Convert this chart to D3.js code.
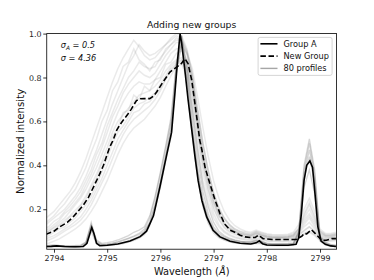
<!DOCTYPE html>
<html>
<head>
<meta charset="utf-8">
<script src="https://d3js.org/d3.v7.min.js"></script>
<style>
  body { margin: 0; background: #fff; }
  svg { display: block; font-family: 'DejaVu Sans', sans-serif; }
</style>
</head>
<body>
<svg></svg>
<script>

// tick labels
var xTicks = [2794, 2795, 2796, 2797, 2798, 2799];
var yTicks = [0.2, 0.4, 0.6, 0.8, 1.0];

// Group A (solid black)
var groupAWave = [2793.85, 2793.95, 2794.05, 2794.2, 2794.4, 2794.55, 2794.62, 2794.67, 2794.71, 2794.75,
  2794.8, 2794.86, 2795.0, 2795.2, 2795.43, 2795.62, 2795.74, 2795.87, 2795.99, 2796.12,
  2796.21, 2796.27, 2796.32, 2796.37, 2796.40, 2796.46, 2796.52, 2796.59, 2796.65, 2796.71,
  2796.78, 2796.87, 2796.99, 2797.12, 2797.31, 2797.5, 2797.7, 2797.8, 2797.86, 2797.92,
  2798.0, 2798.2, 2798.4, 2798.55, 2798.6, 2798.65, 2798.7, 2798.75, 2798.81, 2798.86,
  2798.91, 2798.96, 2799.02, 2799.1, 2799.2, 2799.3];
var groupAValue = [0.030, 0.031, 0.033, 0.030, 0.029, 0.030, 0.045, 0.085, 0.117, 0.090,
  0.045, 0.034, 0.036, 0.042, 0.055, 0.075, 0.100, 0.170, 0.300, 0.450,
  0.550, 0.720, 0.870, 1.000, 0.955, 0.833, 0.700, 0.560, 0.440, 0.330,
  0.240, 0.165, 0.104, 0.074, 0.054, 0.045, 0.042, 0.047, 0.056, 0.043,
  0.037, 0.036, 0.036, 0.040, 0.070, 0.180, 0.330, 0.400, 0.420, 0.390,
  0.260, 0.120, 0.055, 0.040, 0.033, 0.030];

// New Group (dashed)
var newGroupWave = [2793.85, 2794.0, 2794.11, 2794.25, 2794.36, 2794.45, 2794.55, 2794.65, 2794.74, 2794.84,
  2794.93, 2795.0, 2795.05, 2795.11, 2795.18, 2795.24, 2795.30, 2795.38, 2795.45, 2795.55,
  2795.62, 2795.70, 2795.80, 2795.87, 2795.93, 2796.05, 2796.18, 2796.31, 2796.40, 2796.46,
  2796.52, 2796.59, 2796.65, 2796.71, 2796.74, 2796.78, 2796.84, 2796.93, 2797.03, 2797.12,
  2797.21, 2797.31, 2797.40, 2797.50, 2797.59, 2797.70, 2797.78, 2797.84, 2797.88, 2797.93,
  2798.1, 2798.3, 2798.55, 2798.66, 2798.70, 2798.75, 2798.84, 2798.94, 2799.03, 2799.12,
  2799.22, 2799.3];
var newGroupValue = [0.086, 0.100, 0.120, 0.140, 0.165, 0.190, 0.218, 0.255, 0.300, 0.350,
  0.400, 0.450, 0.484, 0.514, 0.560, 0.585, 0.605, 0.630, 0.655, 0.695,
  0.703, 0.704, 0.704, 0.715, 0.734, 0.780, 0.825, 0.848, 0.865, 0.886,
  0.863, 0.787, 0.680, 0.570, 0.514, 0.470, 0.390, 0.317, 0.240, 0.180,
  0.132, 0.105, 0.095, 0.082, 0.074, 0.071, 0.071, 0.082, 0.075, 0.066,
  0.062, 0.062, 0.062, 0.077, 0.090, 0.088, 0.107, 0.082, 0.059, 0.059,
  0.066, 0.066];

// wavelength grid shared by the 80 profiles (only a sample of them is kept)
var profileWave = [2793.8, 2793.9, 2794.0, 2794.1, 2794.2, 2794.3, 2794.4, 2794.5, 2794.6, 2794.7,
  2794.8, 2794.9, 2795.0, 2795.1, 2795.2, 2795.3, 2795.4, 2795.5, 2795.6, 2795.7,
  2795.8, 2795.9, 2796.0, 2796.1, 2796.2, 2796.3, 2796.4, 2796.5, 2796.6, 2796.7,
  2796.8, 2796.9, 2797.0, 2797.1, 2797.2, 2797.3, 2797.4, 2797.5, 2797.6, 2797.7,
  2797.8, 2797.9, 2798.0, 2798.1, 2798.2, 2798.3, 2798.4, 2798.5, 2798.6, 2798.7,
  2798.8, 2798.9, 2799.0, 2799.1, 2799.2, 2799.3];

// profiles close to Group A
var narrowProfiles = [
  [.032,.034,.036,.034,.033,.032,.033,.034,.050,.140,
   .055,.040,.042,.046,.052,.060,.068,.078,.090,.110,
   .160,.250,.360,.480,.600,.860,.990,.840,.620,.430,
   .280,.180,.120,.090,.075,.065,.058,.054,.052,.052,
   .060,.055,.045,.043,.043,.043,.044,.046,.100,.400,
   .520,.380,.080,.050,.040,.036],
  [.028,.030,.031,.030,.029,.028,.028,.029,.038,.100,
   .042,.033,.034,.037,.040,.044,.050,.058,.068,.085,
   .125,.200,.300,.420,.530,.820,.950,.760,.530,.340,
   .210,.135,.092,.070,.059,.051,.046,.043,.041,.040,
   .045,.043,.035,.034,.034,.034,.034,.036,.070,.300,
   .380,.270,.055,.038,.032,.029],
  [.031,.032,.034,.032,.031,.030,.031,.032,.045,.125,
   .050,.038,.040,.044,.050,.057,.066,.075,.085,.100,
   .140,.220,.330,.450,.580,.840,.970,.860,.660,.470,
   .310,.210,.140,.100,.080,.068,.060,.055,.050,.048,
   .055,.050,.042,.040,.040,.040,.041,.043,.090,.360,
   .470,.340,.070,.045,.036,.032],
  [.033,.035,.037,.035,.034,.034,.035,.037,.050,.130,
   .060,.045,.048,.053,.060,.070,.080,.095,.105,.120,
   .170,.260,.370,.490,.620,.870,.990,.800,.570,.380,
   .240,.160,.110,.082,.070,.062,.056,.052,.050,.050,
   .058,.052,.044,.042,.042,.042,.043,.045,.095,.380,
   .500,.360,.075,.048,.038,.034],
  [.029,.030,.032,.031,.030,.029,.029,.030,.042,.120,
   .046,.036,.037,.040,.044,.048,.056,.065,.076,.095,
   .140,.220,.320,.440,.560,.830,.960,.800,.570,.380,
   .240,.155,.105,.078,.065,.057,.051,.047,.045,.044,
   .050,.046,.038,.037,.037,.037,.037,.039,.085,.340,
   .440,.320,.065,.042,.034,.031]
];

// profiles close to the New Group
var broadProfiles = [
  [.090,.100,.115,.130,.150,.170,.195,.220,.260,.310,
   .360,.420,.480,.550,.600,.630,.660,.690,.720,.730,
   .740,.760,.790,.830,.860,.880,.890,.860,.740,.550,
   .400,.290,.210,.155,.120,.100,.090,.080,.075,.072,
   .080,.074,.068,.066,.066,.065,.066,.070,.085,.100,
   .120,.100,.070,.065,.068,.070],
  [.120,.140,.160,.180,.200,.230,.260,.300,.350,.410,
   .470,.540,.610,.680,.740,.800,.860,.900,.950,.920,
   .900,.910,.930,.950,.970,.990,.980,.920,.800,.620,
   .460,.340,.250,.180,.140,.115,.100,.090,.085,.080,
   .090,.082,.075,.072,.072,.070,.072,.078,.100,.140,
   .170,.130,.085,.075,.075,.080],
  [.050,.060,.070,.085,.100,.115,.130,.150,.180,.220,
   .270,.320,.370,.430,.490,.540,.580,.610,.630,.650,
   .670,.700,.740,.790,.830,.860,.870,.830,.700,.520,
   .370,.260,.180,.130,.100,.085,.075,.068,.064,.062,
   .070,.065,.058,.056,.056,.055,.056,.060,.075,.090,
   .100,.085,.060,.055,.058,.060],
  [.100,.110,.130,.150,.180,.200,.230,.260,.310,.360,
   .420,.480,.550,.620,.670,.730,.770,.800,.830,.810,
   .800,.820,.860,.900,.930,.960,.960,.910,.800,.640,
   .490,.370,.270,.200,.155,.125,.105,.095,.088,.083,
   .095,.085,.078,.075,.074,.074,.076,.082,.110,.170,
   .220,.160,.095,.080,.080,.085],
  [.070,.080,.095,.110,.120,.140,.160,.190,.220,.260,
   .310,.370,.430,.500,.550,.580,.620,.660,.680,.690,
   .710,.730,.770,.810,.850,.870,.880,.850,.760,.600,
   .450,.320,.230,.170,.130,.110,.095,.085,.078,.075,
   .085,.078,.070,.068,.068,.067,.068,.072,.090,.120,
   .140,.110,.075,.068,.070,.072],
  [.150,.170,.190,.220,.250,.280,.320,.370,.430,.500,
   .570,.640,.710,.780,.840,.890,.930,.970,.940,.900,
   .880,.890,.920,.950,.980,1.00,.990,.930,.820,.660,
   .500,.370,.270,.200,.160,.130,.110,.100,.095,.090,
   .100,.092,.085,.082,.080,.080,.082,.088,.110,.160,
   .200,.150,.100,.085,.085,.090],
  [.040,.045,.055,.065,.080,.095,.110,.130,.155,.190,
   .230,.280,.330,.390,.450,.500,.540,.570,.590,.610,
   .640,.670,.710,.760,.810,.850,.860,.800,.660,.480,
   .330,.230,.160,.120,.095,.080,.070,.064,.060,.058,
   .066,.060,.055,.053,.053,.052,.053,.056,.070,.085,
   .095,.080,.058,.052,.055,.056],
  [.090,.100,.120,.140,.160,.190,.220,.250,.290,.340,
   .390,.450,.510,.580,.640,.690,.730,.760,.780,.770,
   .770,.790,.830,.870,.910,.930,.940,.910,.840,.710,
   .570,.440,.330,.250,.190,.150,.125,.110,.100,.095,
   .105,.095,.088,.085,.084,.084,.086,.095,.130,.200,
   .250,.190,.110,.090,.090,.095],
  [.080,.095,.105,.125,.140,.165,.180,.215,.245,.300,
   .340,.410,.450,.530,.570,.640,.650,.720,.700,.760,
   .740,.790,.800,.860,.870,.910,.920,.880,.780,.600,
   .440,.330,.240,.180,.135,.115,.098,.090,.082,.079,
   .088,.080,.073,.071,.070,.071,.072,.077,.095,.130,
   .160,.120,.080,.072,.074,.078],
  [.130,.150,.170,.200,.225,.260,.290,.340,.390,.460,
   .520,.600,.650,.740,.780,.850,.870,.930,.880,.860,
   .830,.870,.880,.930,.950,.980,.970,.900,.770,.590,
   .430,.320,.230,.170,.135,.110,.098,.088,.084,.080,
   .092,.083,.076,.073,.073,.072,.074,.080,.105,.150,
   .180,.140,.090,.078,.078,.083],
  [.060,.070,.080,.095,.110,.125,.145,.165,.200,.240,
   .290,.340,.400,.460,.520,.560,.600,.640,.650,.680,
   .690,.720,.750,.800,.840,.860,.880,.840,.730,.560,
   .410,.290,.200,.150,.115,.095,.085,.076,.070,.068,
   .077,.071,.064,.062,.061,.061,.062,.066,.082,.105,
   .120,.095,.068,.060,.063,.065],
  [.110,.120,.145,.160,.190,.215,.245,.280,.330,.380,
   .450,.500,.580,.640,.700,.750,.800,.830,.870,.850,
   .840,.850,.890,.920,.950,.970,.970,.920,.810,.650,
   .500,.380,.280,.210,.160,.130,.110,.098,.090,.086,
   .098,.088,.080,.077,.076,.076,.078,.085,.115,.180,
   .230,.170,.100,.082,.082,.088]
];

var legendLabels = ['Group A', 'New Group', '80 profiles'];

var width = 374;
var height = 280;
var margin = {left: 46.75, right: 37.4, top: 33.6, bottom: 30.8};

var svg = d3.select('svg')
  .attr('width', width)
  .attr('height', height);

var x = d3.scaleLinear()
  .domain([2793.864, 2799.312])
  .range([margin.left, width - margin.right]);

var y = d3.scaleLinear()
  .domain([0.018, 1.0])
  .range([height - margin.bottom, margin.top]);

svg.append('defs').append('clipPath')
  .attr('id', 'plot-clip')
  .append('rect')
    .attr('x', margin.left)
    .attr('y', margin.top)
    .attr('width', width - margin.left - margin.right)
    .attr('height', height - margin.top - margin.bottom);

var line = d3.line()
  .x(d => x(d[0]))
  .y(d => y(d[1]));

var plot = svg.append('g').attr('clip-path', 'url(#plot-clip)');

// gray profiles
plot.selectAll('.broad')
  .data(broadProfiles)
  .enter()
  .append('path')
    .attr('class', 'broad')
    .attr('d', d => line(d3.zip(profileWave, d)))
    .attr('fill', 'none')
    .attr('stroke', '#808080')
    .attr('stroke-opacity', 0.17)
    .attr('stroke-width', 1.5);

plot.selectAll('.narrow')
  .data(narrowProfiles)
  .enter()
  .append('path')
    .attr('class', 'narrow')
    .attr('d', d => line(d3.zip(profileWave, d)))
    .attr('fill', 'none')
    .attr('stroke', '#808080')
    .attr('stroke-opacity', 0.32)
    .attr('stroke-width', 1.3);

plot.append('path')
  .attr('d', line(d3.zip(newGroupWave, newGroupValue)))
  .attr('fill', 'none')
  .attr('stroke', '#000')
  .attr('stroke-width', 1.6)
  .attr('stroke-dasharray', '5.5,2.6');

plot.append('path')
  .attr('d', line(d3.zip(groupAWave, groupAValue)))
  .attr('fill', 'none')
  .attr('stroke', '#000')
  .attr('stroke-width', 1.6);

// axes
var xAxis = d3.axisBottom(x)
  .tickValues(xTicks)
  .tickSize(3.5)
  .tickPadding(2.3)
  .tickFormat(d3.format('d'));

var yAxis = d3.axisLeft(y)
  .tickValues(yTicks)
  .tickSize(3.5)
  .tickPadding(1.6)
  .tickFormat(d3.format('.1f'));

svg.append('g')
  .attr('transform', `translate(0, ${height - margin.bottom})`)
  .call(xAxis);

svg.append('g')
  .attr('transform', `translate(${margin.left}, 0)`)
  .call(yAxis);

svg.selectAll('.domain').remove();
svg.selectAll('.tick line').attr('stroke', '#000').attr('stroke-width', 0.8);
svg.selectAll('.tick text')
  .attr('fill', '#222')
  .style('font-family', 'DejaVu Sans')
  .style('font-size', '7.9px');

svg.append('rect')
  .attr('x', margin.left)
  .attr('y', margin.top)
  .attr('width', width - margin.left - margin.right)
  .attr('height', height - margin.top - margin.bottom)
  .attr('fill', 'none')
  .attr('stroke', '#000')
  .attr('stroke-width', 0.8);

// title
svg.append('text')
  .attr('x', (margin.left + width - margin.right) / 2)
  .attr('y', 28)
  .style('text-anchor', 'middle')
  .style('font-size', '9.3px')
  .attr('fill', '#111')
  .text('Adding new groups');

// x-axis label
var xLabel = svg.append('text')
  .attr('x', (margin.left + width - margin.right) / 2)
  .attr('y', 275)
  .style('text-anchor', 'middle')
  .style('font-size', '9.8px')
  .attr('fill', '#111');
xLabel.append('tspan').text('Wavelength (');
xLabel.append('tspan').style('font-style', 'italic').text('Å');
xLabel.append('tspan').text(')');

// y-axis label
svg.append('text')
  .attr('transform', 'rotate(-90)')
  .attr('x', -(margin.top + height - margin.bottom) / 2)
  .attr('y', 23.5)
  .style('text-anchor', 'middle')
  .style('font-size', '10.2px')
  .attr('fill', '#111')
  .text('Normalized intensity');

// sigma notes
var note1 = svg.append('text')
  .attr('x', 60.7)
  .attr('y', 48.3)
  .style('font-size', '8.2px')
  .style('font-style', 'italic')
  .attr('fill', '#111');
note1.append('tspan').text('σ');
note1.append('tspan').attr('dy', 1.8).style('font-size', '5.8px').text('A');
note1.append('tspan').attr('dy', -1.8).text(' = 0.5');

svg.append('text')
  .attr('x', 60.7)
  .attr('y', 60.7)
  .style('font-size', '8.2px')
  .style('font-style', 'italic')
  .attr('fill', '#111')
  .text('σ = 4.36');

// legend
var legend = svg.append('g')
  .attr('transform', `translate(${width - margin.right - 78.5}, ${margin.top + 3.8})`);

legend.append('rect')
  .attr('width', 74)
  .attr('height', 38)
  .attr('rx', 2)
  .attr('fill', '#fff')
  .attr('fill-opacity', 0.8)
  .attr('stroke', '#cccccc')
  .attr('stroke-width', 0.8);

var legendStyle = [
  {stroke: '#000', dash: null, width: 1.6},
  {stroke: '#000', dash: '5.5,2.6', width: 1.6},
  {stroke: '#a6a6a6', dash: null, width: 1.4}
];

var rows = legend.selectAll('.row')
  .data(legendLabels)
  .enter()
  .append('g')
    .attr('class', 'row')
    .attr('transform', (d, i) => `translate(0, ${6.4 + i * 12.3})`);

rows.append('line')
  .attr('x1', 2.3)
  .attr('x2', 19.4)
  .attr('stroke', (d, i) => legendStyle[i].stroke)
  .attr('stroke-width', (d, i) => legendStyle[i].width)
  .attr('stroke-dasharray', (d, i) => legendStyle[i].dash);

rows.append('text')
  .attr('x', 25.4)
  .attr('dy', '0.35em')
  .style('font-size', '8.2px')
  .attr('fill', '#111')
  .text(d => d);

</script>
</body>
</html>
